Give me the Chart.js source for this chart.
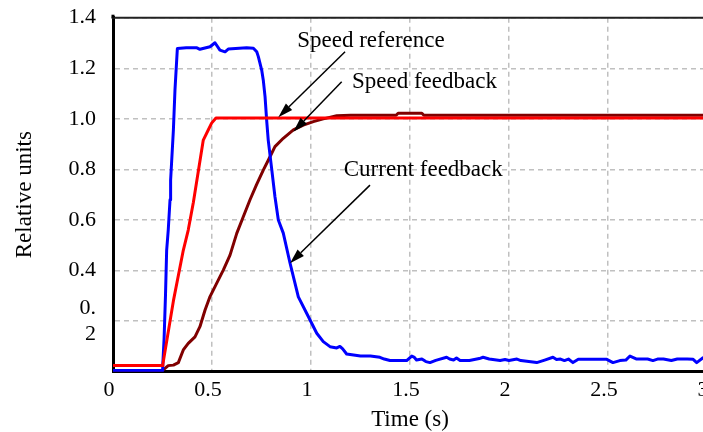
<!DOCTYPE html>
<html>
<head>
<meta charset="utf-8">
<script src="https://cdn.jsdelivr.net/npm/chart.js@4/dist/chart.umd.min.js"></script>
<style>
  html, body { margin: 0; padding: 0; background: #fff; overflow: hidden; width: 703px; height: 432px; }
  #wrap { position: absolute; left: 0; top: 0; width: 720px; height: 432px; }
</style>
</head>
<body>
<div id="wrap"><canvas id="c" width="720" height="432"></canvas></div>
<script>
// ---- data ----
const refTime   = [0, 0.25, 0.252, 0.305, 0.355, 0.38, 0.406, 0.456, 0.481, 0.498, 0.52, 3.0];
const speedRef  = [0.025, 0.025, 0.03, 0.28, 0.48, 0.56, 0.67, 0.916, 0.956, 0.983, 1.003, 1.003];

const fbTime    = [0, 0.25, 0.258, 0.279, 0.305, 0.33, 0.355, 0.38, 0.414, 0.439, 0.465, 0.49, 0.524, 0.557, 0.591, 0.625, 0.658, 0.692, 0.725, 0.759, 0.793, 0.818, 0.86, 0.911, 0.961, 1.012, 1.062, 1.13, 1.2, 1.43, 1.44, 1.56, 1.57, 3.0];
const speedFb   = [0.005, 0.005, 0.01, 0.024, 0.026, 0.036, 0.086, 0.112, 0.138, 0.178, 0.244, 0.297, 0.35, 0.402, 0.461, 0.547, 0.613, 0.68, 0.74, 0.797, 0.85, 0.89, 0.923, 0.956, 0.975, 0.989, 1.0, 1.012, 1.014, 1.014, 1.022, 1.022, 1.014, 1.014];

const curTime   = [0, 0.25, 0.251, 0.258, 0.265, 0.271, 0.279, 0.288, 0.291, 0.305, 0.313, 0.325, 0.37, 0.424, 0.439, 0.49, 0.515, 0.54, 0.566, 0.582, 0.675, 0.709, 0.726, 0.734, 0.751, 0.759, 0.768, 0.776, 0.784, 0.802, 0.818, 0.835, 0.86, 0.894, 0.919, 0.936, 0.978, 1.029, 1.062, 1.096, 1.13, 1.146, 1.16, 1.18, 1.25, 1.3, 1.348, 1.37, 1.399, 1.483, 1.509, 1.52, 1.533, 1.56, 1.58, 1.601, 1.63, 1.685, 1.7, 1.72, 1.735, 1.753, 1.8, 1.85, 1.869, 1.9, 1.955, 1.98, 2.0, 2.04, 2.06, 2.1, 2.14, 2.18, 2.222, 2.24, 2.26, 2.28, 2.3, 2.323, 2.35, 2.4, 2.45, 2.494, 2.525, 2.56, 2.59, 2.611, 2.645, 2.7, 2.727, 2.75, 2.78, 2.82, 2.85, 2.9, 2.93, 2.948, 2.98, 3.0];
const currentFb = [0.005, 0.005, 0.02, 0.13, 0.3, 0.48, 0.56, 0.68, 0.757, 0.956, 1.114, 1.278, 1.281, 1.281, 1.275, 1.285, 1.301, 1.272, 1.265, 1.276, 1.281, 1.279, 1.265, 1.246, 1.193, 1.153, 1.087, 0.995, 0.916, 0.798, 0.692, 0.6, 0.548, 0.43, 0.35, 0.296, 0.231, 0.152, 0.119, 0.099, 0.094, 0.1, 0.09, 0.07, 0.062, 0.062, 0.057, 0.05, 0.044, 0.044, 0.062, 0.058, 0.046, 0.05, 0.04, 0.036, 0.045, 0.057, 0.05, 0.046, 0.054, 0.044, 0.044, 0.052, 0.057, 0.05, 0.044, 0.048, 0.044, 0.05, 0.044, 0.04, 0.036, 0.046, 0.057, 0.048, 0.05, 0.044, 0.05, 0.036, 0.049, 0.049, 0.049, 0.049, 0.036, 0.044, 0.046, 0.062, 0.05, 0.05, 0.044, 0.05, 0.05, 0.044, 0.05, 0.05, 0.049, 0.036, 0.055, 0.055];

const xTickLabels = ['0', '0.5', '1', '1.5', '2', '2.5', '3'];
const yTickLabels = ['', ['0.', '2'], '0.4', '0.6', '0.8', '1.0', '1.2', '1.4'];

const seriesNames = ['Speed reference', 'Current feedback', 'Speed feedback'];

// annotation texts with arrows (in data units)
const notes = [
  { text: 'Speed reference',  tx: 1.303, ty: 1.283, x0: 1.172, y0: 1.265, x1: 0.835, y1: 1.006 },
  { text: 'Speed feedback',   tx: 1.573, ty: 1.121, x0: 1.155, y0: 1.147, x1: 0.911, y1: 0.949 },
  { text: 'Current feedback', tx: 1.567, ty: 0.774, x0: 1.298, y0: 0.738, x1: 0.894, y1: 0.429 }
];

const pts = (xs, ys) => xs.map((x, i) => ({ x: x, y: ys[i] }));

const FONT = '"Liberation Serif", "Times New Roman", serif';

const frame = {
  id: 'frame',
  afterDraw(chart) {
    const { ctx, chartArea: a } = chart;
    ctx.save();
    ctx.strokeStyle = '#222';
    ctx.lineWidth = 2;
    ctx.beginPath();
    ctx.moveTo(a.left - 1.5, a.top);
    ctx.lineTo(a.right, a.top);
    ctx.stroke();
    ctx.strokeStyle = '#000';
    ctx.lineWidth = 3;
    ctx.beginPath();
    ctx.moveTo(a.left, a.top - 3);
    ctx.lineTo(a.left, a.top);
    ctx.stroke();
    ctx.restore();
  }
};

const annot = {
  id: 'annot',
  afterDatasetsDraw(chart) {
    const { ctx } = chart;
    const xs = chart.scales.x, ys = chart.scales.y;
    ctx.save();
    ctx.font = '23px ' + FONT;
    ctx.fillStyle = '#000';
    ctx.textAlign = 'center';
    ctx.textBaseline = 'alphabetic';
    notes.forEach(n => {
      ctx.fillText(n.text, xs.getPixelForValue(n.tx), ys.getPixelForValue(n.ty));
      const x0 = xs.getPixelForValue(n.x0), y0 = ys.getPixelForValue(n.y0);
      const x1 = xs.getPixelForValue(n.x1), y1 = ys.getPixelForValue(n.y1);
      const ang = Math.atan2(y1 - y0, x1 - x0);
      const hl = 15, hw = 4.5;
      const bx = x1 - hl * Math.cos(ang), by = y1 - hl * Math.sin(ang);
      ctx.strokeStyle = '#000';
      ctx.lineWidth = 1.5;
      ctx.beginPath();
      ctx.moveTo(x0, y0);
      ctx.lineTo(bx, by);
      ctx.stroke();
      ctx.beginPath();
      ctx.moveTo(x1, y1);
      ctx.lineTo(bx + hw * Math.sin(ang), by - hw * Math.cos(ang));
      ctx.lineTo(bx - hw * Math.sin(ang), by + hw * Math.cos(ang));
      ctx.closePath();
      ctx.fill();
    });
    ctx.restore();
  }
};

new Chart(document.getElementById('c'), {
  type: 'line',
  data: {
    datasets: [
      { label: seriesNames[0], data: pts(refTime, speedRef), borderColor: '#ff0000', borderWidth: 3, order: 0 },
      { label: seriesNames[1], data: pts(curTime, currentFb), borderColor: '#0000ff', borderWidth: 3, order: 1 },
      { label: seriesNames[2], data: pts(fbTime, speedFb), borderColor: '#800000', borderWidth: 3, order: 2 }
    ]
  },
  options: {
    responsive: false,
    animation: false,
    devicePixelRatio: 1,
    parsing: false,
    elements: { point: { radius: 0 }, line: { tension: 0, borderJoinStyle: 'round' } },
    layout: { padding: { left: 0, top: 17.7, right: 13, bottom: 0 } },
    plugins: { legend: { display: false }, tooltip: { enabled: false } },
    scales: {
      x: {
        type: 'linear', min: 0, max: 3,
        ticks: {
          stepSize: 0.5, padding: 5, color: '#000', autoSkip: false, maxRotation: 0, labelOffset: -4,
          font: { family: FONT, size: 22 },
          callback: (v, i) => xTickLabels[i]
        },
        grid: { color: '#c0c0c0', lineWidth: 1.5, drawTicks: false },
        border: { display: true, color: '#000', width: 3, dash: [5, 4] },
        title: { display: true, text: 'Time (s)', color: '#000', font: { family: FONT, size: 23, lineHeight: 1 }, padding: { top: 0, bottom: 1 } },
        afterFit: s => { s.height = 432 - 371.7; s.paddingLeft = 0; s.paddingRight = 0; }
      },
      y: {
        type: 'linear', min: 0, max: 1.4,
        ticks: {
          stepSize: 0.2, padding: 17, color: '#000', autoSkip: false,
          font: { family: FONT, size: 22 },
          callback: (v, i) => yTickLabels[i]
        },
        grid: { color: '#c0c0c0', lineWidth: 1.5, drawTicks: false },
        border: { display: true, color: '#000', width: 3, dash: [5, 4] },
        title: { display: true, text: 'Relative units', color: '#000', font: { family: FONT, size: 23, lineHeight: 1.2 }, padding: { top: 11, bottom: 0 } },
        afterFit: s => { s.width = 113; s.paddingTop = 0; s.paddingBottom = 0; }
      }
    }
  },
  plugins: [frame, annot]
});
</script>
</body>
</html>
